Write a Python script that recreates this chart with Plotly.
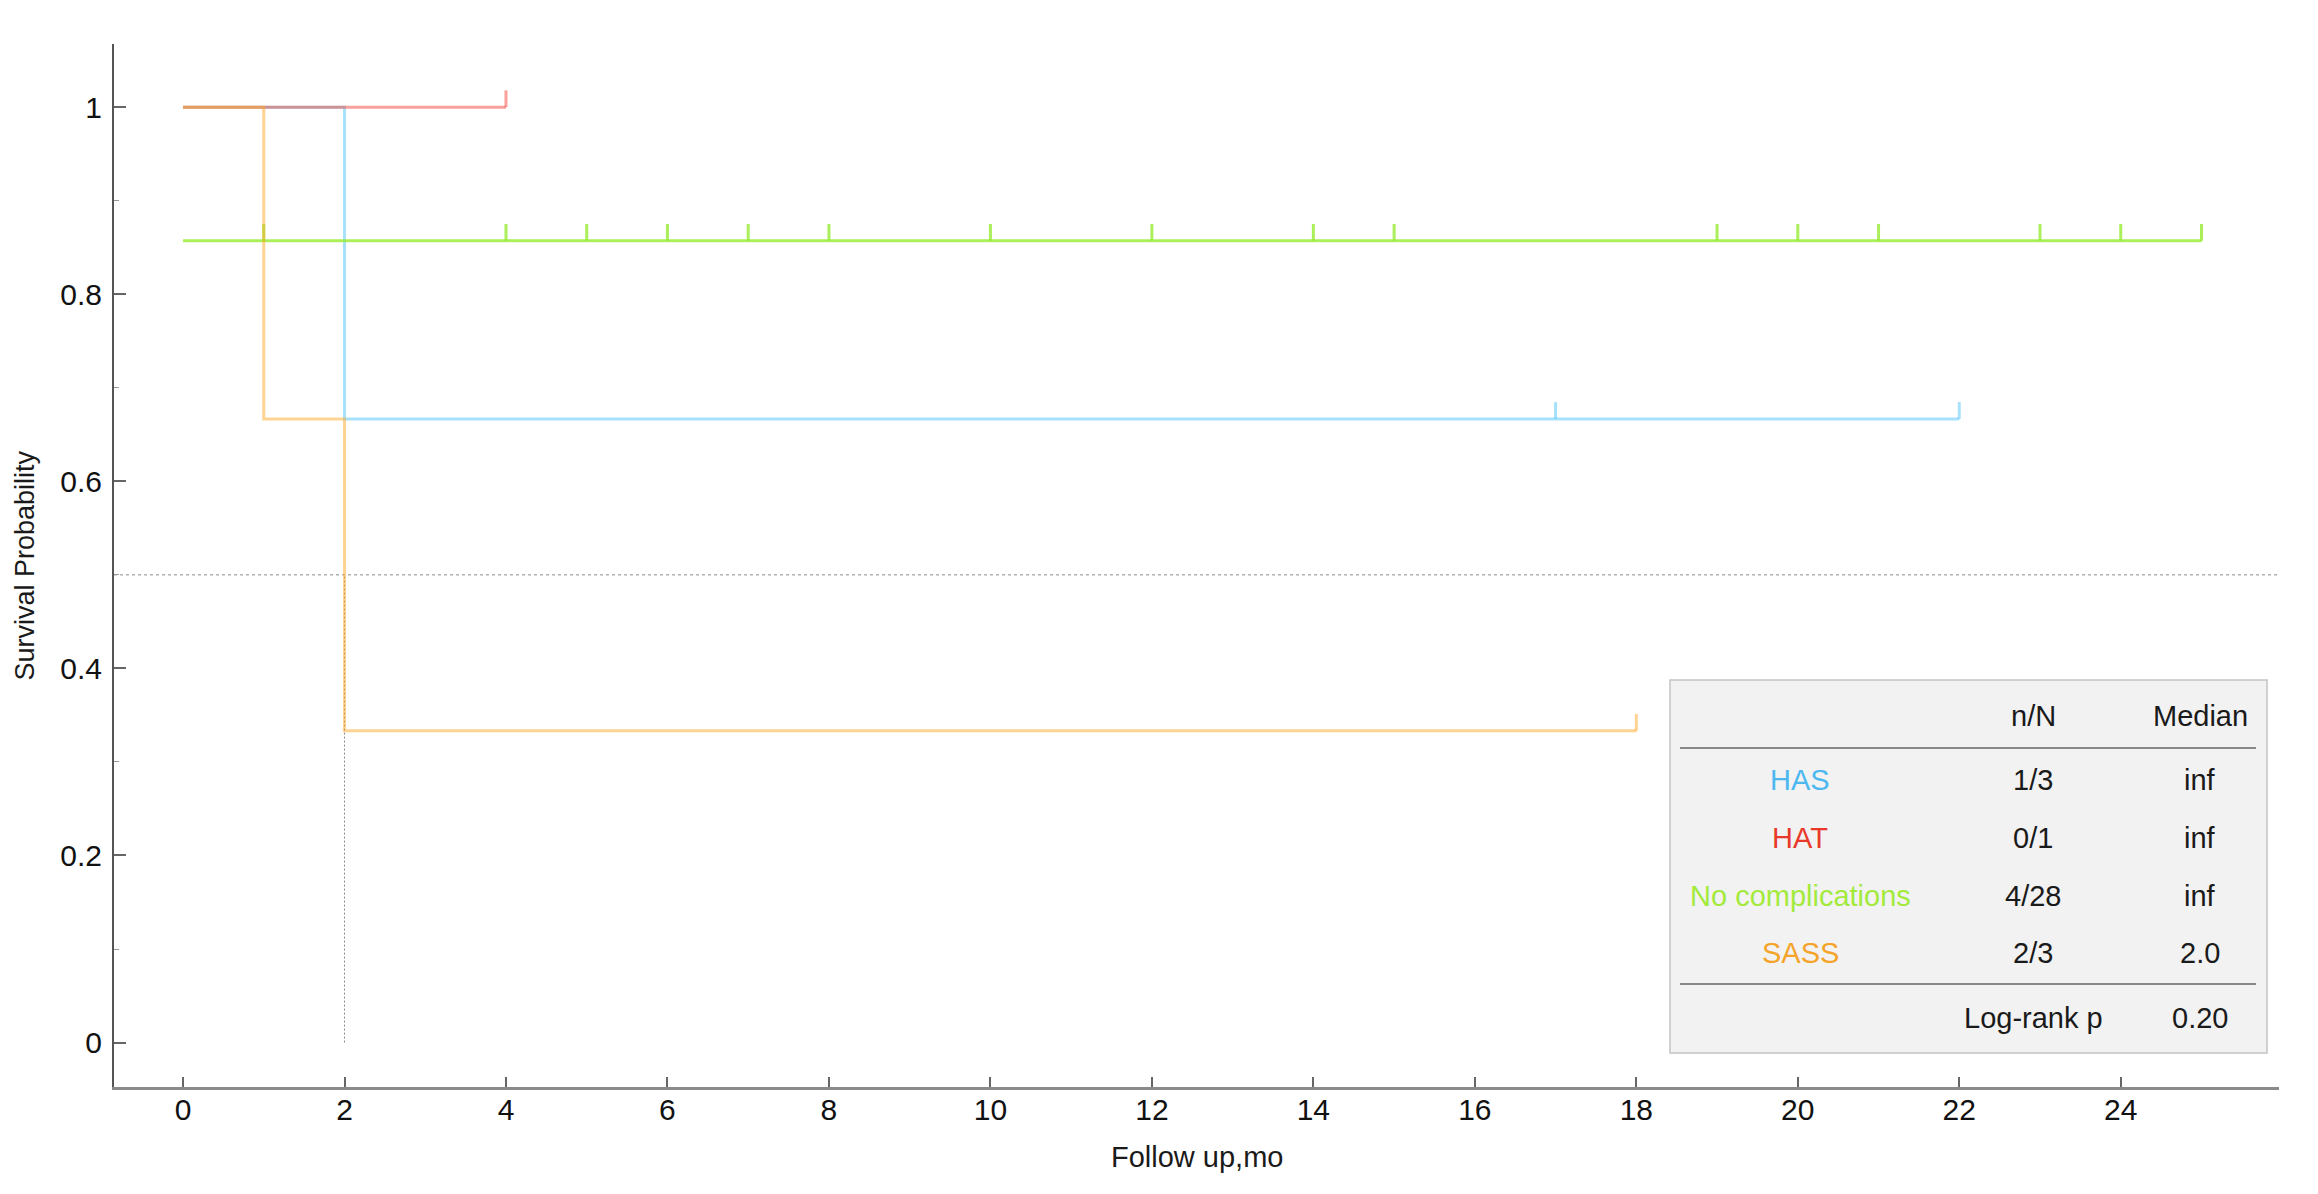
import plotly.graph_objects as go

# ---------------- data ----------------
groups = ["HAS", "HAT", "No complications", "SASS"]

has_t = [0, 2, 22]
has_s = [1.0, 0.6667, 0.6667]
has_cens = [17, 22]

hat_t = [0, 4]
hat_s = [1.0, 1.0]
hat_cens = [4]

noc_t = [0, 25]
noc_s = [0.8571, 0.8571]
noc_cens = [1, 4, 5, 6, 7, 8, 10, 12, 14, 15, 19, 20, 21, 23, 24, 25]

sass_t = [0, 1, 2, 18]
sass_s = [1.0, 0.6667, 0.3333, 0.3333]
sass_cens = [18]

n_over_N = ["1/3", "0/1", "4/28", "2/3"]
medians = ["inf", "inf", "inf", "2.0"]
logrank_p = "0.20"
median_time = 2

x_ticks = [0, 2, 4, 6, 8, 10, 12, 14, 16, 18, 20, 22, 24]
y_ticks = [0, 0.2, 0.4, 0.6, 0.8, 1.0]
y_ticktext = ["0", "0.2", "0.4", "0.6", "0.8", "1"]

# ---------------- style ----------------
line_cols = {
    "HAS": "rgba(79,195,247,0.5)",
    "HAT": "rgba(244,67,54,0.5)",
    "No complications": "rgba(150,235,50,0.8)",
    "SASS": "rgba(255,167,38,0.5)",
}
text_cols = {
    "HAS": "#4db8f0",
    "HAT": "#e8392a",
    "No complications": "#a3ea3c",
    "SASS": "#f5a42a",
}
FONT = "Liberation Sans, Arial, Helvetica, sans-serif"

series = {
    "HAS": (has_t, has_s, has_cens),
    "HAT": (hat_t, hat_s, hat_cens),
    "No complications": (noc_t, noc_s, noc_cens),
    "SASS": (sass_t, sass_s, sass_cens),
}


def surv_at(ts, ss, t):
    val = ss[0]
    for ti, si in zip(ts, ss):
        if ti <= t:
            val = si
    return val


fig = go.Figure()
CENS_H = 0.018
for g in ["HAS", "HAT", "No complications", "SASS"]:
    ts, ss, cs = series[g]
    fig.add_trace(go.Scatter(x=ts, y=ss, mode="lines", line=dict(shape="hv", color=line_cols[g], width=3),
                             showlegend=False, hoverinfo="skip"))
    cx, cy = [], []
    for c in cs:
        s = surv_at(ts, ss, c)
        cx += [c, c, None]
        cy += [s, s + CENS_H, None]
    fig.add_trace(go.Scatter(x=cx, y=cy, mode="lines", line=dict(color=line_cols[g], width=3),
                             showlegend=False, hoverinfo="skip"))

# page has an 8px body margin; work in page pixels and subtract it
OFF = 8
W, H = 2318 - 2 * OFF, 1194 - 2 * OFF
L, R, T, B = 114 - OFF, 2279 - OFF, 44 - OFF, 1087 - OFF


def px(x):
    return (x - OFF - L) / (R - L)


def py(y):
    return (B - (y - OFF)) / (B - T)


shapes = [
    dict(type="line", xref="paper", yref="y", x0=0, x1=1, y0=0.5, y1=0.5,
         line=dict(color="#8a8a8a", width=1, dash="3px,3px"), layer="below"),
    dict(type="line", xref="x", yref="y", x0=median_time, x1=median_time, y0=0, y1=0.5,
         line=dict(color="#8a8a8a", width=1, dash="2px,2px"), layer="below"),
    dict(type="rect", xref="paper", yref="paper", x0=px(1670), x1=px(2267), y0=py(1053), y1=py(680),
         fillcolor="#f2f2f2", line=dict(color="#c4c4c4", width=1.5)),
    dict(type="line", xref="paper", yref="paper", x0=px(1680), x1=px(2256), y0=py(748), y1=py(748),
         line=dict(color="#888888", width=2)),
    dict(type="line", xref="paper", yref="paper", x0=px(1680), x1=px(2256), y0=py(984), y1=py(984),
         line=dict(color="#888888", width=2)),
]

TFS = 29
annotations = []


def txt(x, y, s, color="#1a1a1a", size=TFS):
    annotations.append(dict(xref="paper", yref="paper", x=px(x), y=py(y), text=s, showarrow=False,
                            xanchor="center", yanchor="middle", font=dict(family=FONT, size=size, color=color)))


col_name, col_n, col_med = 1800, 2033, 2200
txt(col_n, 716, "n/N")
txt(col_med, 716, "Median")
row_y = [780, 838, 896, 953]
for g, n, m, yy in zip(groups, n_over_N, medians, row_y):
    txt(col_name, yy, g, color=text_cols[g])
    txt(col_n, yy, n)
    txt(col_med, yy, m)
txt(col_n, 1018, "Log-rank p")
txt(col_med, 1018, logrank_p)

# axis titles
annotations.append(dict(xref="paper", yref="paper", x=px(24), y=0.5, text="Survival Probability", textangle=-90,
                        showarrow=False, xanchor="center", yanchor="middle",
                        font=dict(family=FONT, size=27, color="#1a1a1a")))
annotations.append(dict(xref="paper", yref="paper", x=0.5, y=py(1157), text="Follow up,mo",
                        showarrow=False, xanchor="center", yanchor="middle",
                        font=dict(family=FONT, size=29, color="#1a1a1a")))

fig.update_layout(
    width=W, height=H,
    margin=dict(l=L, r=W - R, t=T, b=H - B, autoexpand=False),
    paper_bgcolor="white", plot_bgcolor="white",
    shapes=shapes, annotations=annotations,
    font=dict(family=FONT, size=30, color="#111111"),
)
fig.update_xaxes(
    range=[-0.855, 25.96], tickvals=x_ticks, ticks="inside", ticklen=10, tickwidth=1.5, tickcolor="#666",
    showline=True, linecolor="#8a8a8a", linewidth=3, showgrid=False, zeroline=False,
    tickfont=dict(family=FONT, size=30, color="#111111"), ticklabelstandoff=-6,
)
fig.update_yaxes(
    range=[-0.0475, 1.0675], tickvals=y_ticks, ticktext=y_ticktext, ticks="inside", ticklen=12, tickwidth=1.5,
    tickcolor="#666", showline=True, linecolor="#555", linewidth=2, showgrid=False, zeroline=False,
    tickfont=dict(family=FONT, size=30, color="#111111"), ticklabelstandoff=4,
    minor=dict(ticks="inside", ticklen=5, dtick=0.1, tick0=0, tickcolor="#999", tickwidth=1),
)

fig.write_html("out.html")
